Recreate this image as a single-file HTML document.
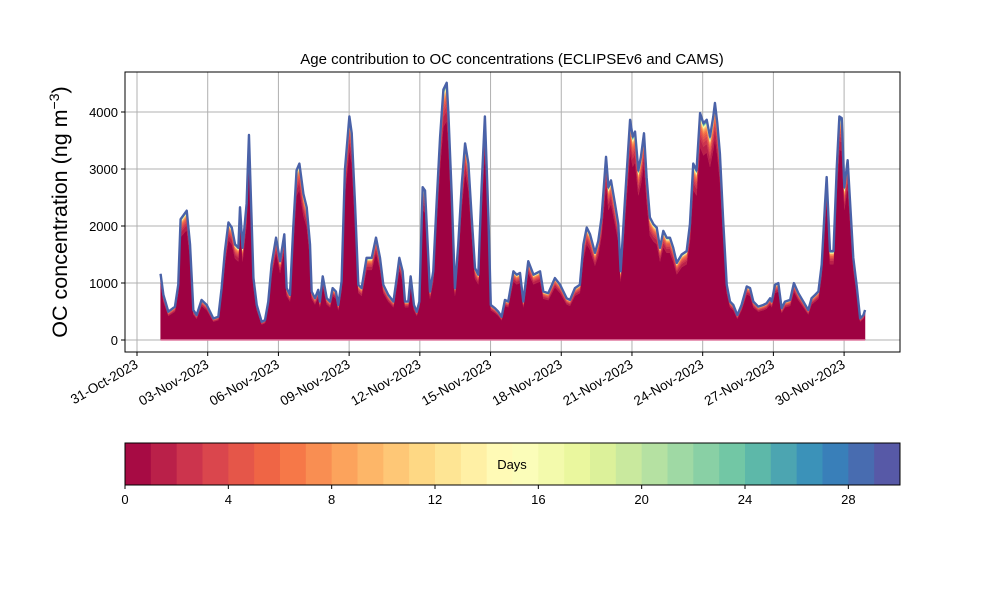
<!DOCTYPE html>
<html><head><meta charset="utf-8">
<style>
html,body{margin:0;padding:0;background:#fff;}
svg{display:block;font-family:"Liberation Sans","DejaVu Sans",sans-serif;}
</style></head>
<body>
<svg id="chart" width="1000" height="600" viewBox="0 0 1000 600" xmlns="http://www.w3.org/2000/svg">
<rect width="1000" height="600" fill="#fff"/>
<text x="512" y="64" font-size="15" text-anchor="middle">Age contribution to OC concentrations (ECLIPSEv6 and CAMS)</text>
<text transform="translate(67,212) rotate(-90)" font-size="21.5" text-anchor="middle">OC concentration (ng m<tspan dy="-8" font-size="14">−3</tspan><tspan dy="8">)</tspan></text>
<g id="grid"></g>
<g id="areas"></g>
<g id="axes"></g>
<g id="cbar"></g>
</svg>
<script>
// Days since 1-Nov-2023 00:00
const days = [0,0.12,0.33,0.61,0.75,0.85,1.11,1.25,1.39,1.53,1.74,1.96,2.24,2.45,2.59,2.73,2.88,3.02,3.16,3.30,3.37,3.48,3.65,3.75,3.84,3.94,4.08,4.29,4.43,4.57,4.71,4.90,5.07,5.25,5.35,5.49,5.63,5.77,5.89,6.06,6.20,6.34,6.41,6.55,6.69,6.76,6.88,7.05,7.19,7.30,7.44,7.54,7.68,7.82,8.01,8.11,8.25,8.39,8.53,8.74,8.96,9.14,9.31,9.45,9.66,9.88,10.02,10.13,10.27,10.37,10.51,10.61,10.75,10.87,10.98,11.12,11.22,11.43,11.57,11.71,11.86,12.00,12.14,12.21,12.35,12.49,12.63,12.78,12.92,13.06,13.20,13.34,13.48,13.62,13.76,13.91,14.01,14.19,14.33,14.47,14.61,14.75,14.97,15.11,15.25,15.39,15.60,15.82,16.10,16.24,16.45,16.73,16.95,17.23,17.37,17.58,17.79,17.94,18.08,18.22,18.43,18.57,18.71,18.90,19.00,19.11,19.28,19.42,19.52,19.71,19.92,20.03,20.13,20.27,20.38,20.51,20.62,20.76,20.91,21.05,21.19,21.33,21.47,21.61,21.75,21.90,22.11,22.32,22.46,22.60,22.74,22.89,23.03,23.17,23.31,23.45,23.52,23.62,23.73,23.87,24.02,24.16,24.30,24.47,24.65,24.87,25.01,25.15,25.36,25.57,25.71,25.86,25.93,26.07,26.21,26.35,26.49,26.71,26.87,27.06,27.27,27.48,27.62,27.77,27.91,28.05,28.19,28.26,28.40,28.55,28.69,28.80,28.90,29.01,29.15,29.25,29.39,29.53,29.68,29.82,29.89];
const totalOC = [1150,784,491,579,959,2099,2246,1661,520,433,696,608,374,404,901,1544,2041,1953,1661,1602,2304,1602,2363,3561,2363,1076,608,316,345,667,1310,1778,1368,1836,901,784,1953,2947,3064,2538,2304,1661,842,725,871,667,1105,725,667,901,842,608,1018,2947,3883,3591,2363,959,901,1427,1427,1778,1427,959,784,667,1076,1427,1193,667,667,1105,608,491,667,2655,2596,842,1193,2363,3532,4351,4468,3942,2538,901,1661,2713,3415,3064,2129,1251,1135,2655,3883,2129,608,550,491,404,696,667,1193,1135,1164,667,1368,1135,1193,842,813,1076,959,725,696,901,959,1661,1953,1836,1515,1719,2129,3181,2655,2772,2363,2012,1193,2480,3825,3532,3620,2947,3181,3591,2830,2129,2012,1953,1602,1895,1778,1778,1602,1339,1485,1544,2012,3064,2947,3942,3766,3825,3532,3883,4117,3766,3240,2070,959,667,608,433,608,930,901,667,579,608,637,725,667,959,988,550,667,696,988,813,667,520,725,784,842,1310,2363,2830,1544,1544,3006,3883,3854,2655,3123,2421,1427,959,374,433,520];
// Fraction of concentration per age (days 0..29)
const ageFractions = [0.86,0.04,0.02,0.015,0.012,0.01,0.008,0.006,0.005,0.004,0.003,0.002,0.002,0.002,0.001,0.001,0.001,0.001,0.001,0.001,0.001,0.001,0.001,0.001,0.001,0.001,0.002,0.002,0.002,0.003];
const yTicks = [0,1000,2000,3000,4000];
const xTickLabels = ["31-Oct-2023","03-Nov-2023","06-Nov-2023","09-Nov-2023","12-Nov-2023","15-Nov-2023","18-Nov-2023","21-Nov-2023","24-Nov-2023","27-Nov-2023","30-Nov-2023"];
const xTickDays = [-1,2,5,8,11,14,17,20,23,26,29];
const cbarTicks = [0,4,8,12,16,20,24,28];

const NS="http://www.w3.org/2000/svg";
const L=125,R=900,T=72,B=352;
const N=Math.min(days.length,totalOC.length);
const xS=d=>160.57+d*23.57;
const yS=v=>340-v*0.057;
function mk(tag,attrs,parent){const e=document.createElementNS(NS,tag);for(const k in attrs)e.setAttribute(k,attrs[k]);parent.appendChild(e);return e;}
const spec=["#9e0142","#d53e4f","#f46d43","#fdae61","#fee08b","#ffffbf","#e6f598","#abdda4","#66c2a5","#3288bd","#5e4fa2"];
function hex(h){return [1,3,5].map(i=>parseInt(h.substr(i,2),16));}
function spectral(t){const p=t*10,i=Math.min(9,Math.floor(p)),f=p-i;const a=hex(spec[i]),b=hex(spec[i+1]);return "rgb("+a.map((v,k)=>Math.round(v+(b[k]-v)*f)).join(",")+")";}

const gridG=document.getElementById('grid'),axesG=document.getElementById('axes'),areasG=document.getElementById('areas'),cbarG=document.getElementById('cbar');
xTickDays.forEach((d,i)=>{const x=xS(d);
  const g=mk('line',{x1:x,x2:x,y1:T,y2:B,stroke:"#b0b0b0","stroke-width":1},gridG);
  
  
  mk('line',{x1:x,x2:x,y1:B,y2:B+4,stroke:"#000"},axesG);
  const t=mk('text',{x:x+2,y:B+15,"font-size":13.5,"text-anchor":"end",transform:`rotate(-30 ${x+2} ${B+15})`},axesG);
  t.textContent=xTickLabels[i];
  
  
});
yTicks.forEach(v=>{const y=yS(v);
  const g=mk('line',{x1:L,x2:R,y1:y,y2:y,stroke:"#b0b0b0","stroke-width":1},gridG);
  
  
  mk('line',{x1:L-4,x2:L,y1:y,y2:y,stroke:"#000"},axesG);
  const t=mk('text',{x:L-7,y:y+5,"font-size":13,"text-anchor":"end"},axesG);
  t.textContent=v;
  
  
});
// stacked areas
let cum=[];for(let i=0;i<N;i++)cum.push(0);
ageFractions.forEach((f,a)=>{
  const lower=cum.slice();cum=cum.map((c,i)=>c+totalOC[i]*f);
  let d="M";const pts=[];
  for(let i=0;i<N;i++)pts.push(xS(days[i]).toFixed(2)+","+yS(cum[i]).toFixed(2));
  d+=pts.join("L");
  for(let i=N-1;i>=0;i--)d+="L"+xS(days[i]).toFixed(2)+","+yS(lower[i]).toFixed(2);
  const col=a===0?"#9e0142":spectral((a+0.5)/30);
  const p=mk('path',{d:d+"Z",fill:col,stroke:col,"stroke-width":0.3},areasG);
  
  
});
const tpts=[];for(let i=0;i<N;i++)tpts.push(xS(days[i]).toFixed(2)+","+yS(cum[i]).toFixed(2));
const topLine=mk('path',{d:"M"+tpts.join("L"),fill:"none",stroke:"#4a62a8","stroke-width":2.4,"stroke-linejoin":"round"},areasG);


const base=mk('line',{x1:xS(days[0]),x2:xS(days[N-1]),y1:yS(0),y2:yS(0),stroke:"#e07aa0","stroke-width":1.5},areasG);


const fr=mk('rect',{x:L,y:T,width:R-L,height:B-T,fill:"none",stroke:"#000","stroke-width":1},axesG);


// colorbar
const cx0=125,cx1=900,cy0=443,cy1=485,cw=(cx1-cx0)/30;
for(let i=0;i<30;i++){const r=mk('rect',{x:cx0+i*cw,y:cy0,width:cw+0.5,height:cy1-cy0,fill:spectral((i+0.5)/30)},cbarG);
  
  }
mk('rect',{x:cx0,y:cy0,width:cx1-cx0,height:cy1-cy0,fill:"none",stroke:"#000"},cbarG);
const dl=mk('text',{x:512,y:469,"font-size":13,"text-anchor":"middle"},cbarG);
dl.textContent="Days";


cbarTicks.forEach(v=>{const x=cx0+v*cw;mk('line',{x1:x,x2:x,y1:cy1,y2:cy1+4,stroke:"#000"},cbarG);
  const t=mk('text',{x:x,y:cy1+19,"font-size":13,"text-anchor":"middle"},cbarG);
  t.textContent=v;
  
  });
</script>
</body></html>
